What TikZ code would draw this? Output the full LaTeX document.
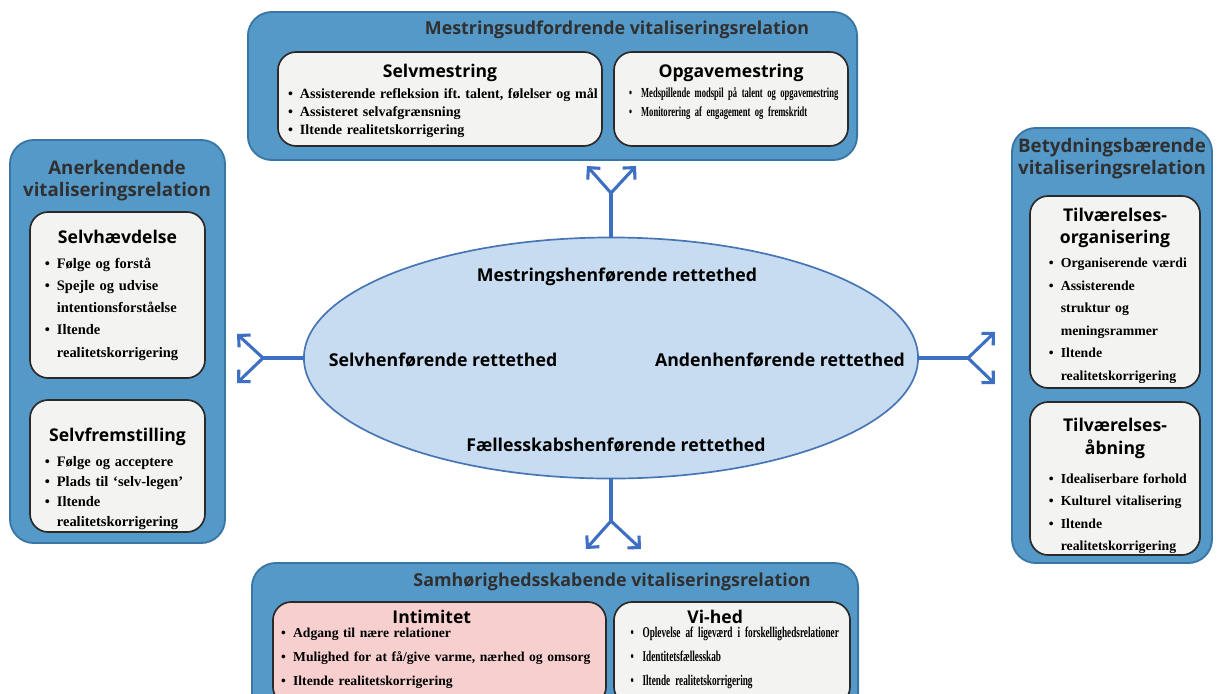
\documentclass[tikz,border=0pt]{standalone}
\usepackage{fontspec}
\setmainfont{Liberation Serif}
\newfontfamily\headfont{Open Sans}
\newfontfamily\narrowserif{Liberation Serif}[FakeStretch=0.62]
\usetikzlibrary{arrows.meta,shapes.geometric}
\definecolor{panelfill}{HTML}{5599C9}
\definecolor{paneldraw}{HTML}{3A76A3}
\definecolor{boxfill}{HTML}{F3F3F1}
\definecolor{boxdraw}{HTML}{2A2A2A}
\definecolor{pinkfill}{HTML}{F7CFCF}
\definecolor{ellfill}{HTML}{C7DCF1}
\definecolor{elldraw}{HTML}{4775B5}
\definecolor{arrowc}{HTML}{3D6FC2}
\definecolor{headtxt}{HTML}{303030}

\frenchspacing
\hyphenpenalty=10000
\exhyphenpenalty=10000
\newlength\bulw \setlength\bulw{8.5pt}
\newlength\itml
\newcommand\itm[1]{\noindent\hangindent=\dimexpr\itml+\bulw\relax\hangafter=1\hspace*{\itml}\makebox[\bulw][l]{\textbullet}#1\par}
\newcommand\boxtitle[2][0pt]{{\centering\headfont\bfseries\fontsize{12.5}{16.3}\selectfont #2\par}\vspace{#1}}

\begin{document}
\begin{tikzpicture}[x=0.025cm, y=-0.025cm,
  panel/.style={draw=paneldraw, line width=1.3pt, fill=panelfill, rounded corners=17pt},
  ptitle/.style={text=headtxt, align=center, font=\headfont\bfseries\fontsize{12.7}{15.6}\selectfont},
  sidetitle/.style={ptitle, font=\headfont\bfseries\fontsize{13.3}{15.6}\selectfont},
  sub/.style={draw=boxdraw, line width=1.2pt, fill=boxfill, rounded corners=13pt, align=left, inner sep=0pt},
  ind/.style={execute at begin node={\setlength{\itml}{#1}}},
  itop/.style={font=\bfseries\fontsize{10}{12.8}\selectfont},
  itopn/.style={font=\narrowserif\bfseries\fontsize{9.8}{13.5}\selectfont},
  ileft/.style={font=\bfseries\fontsize{10.3}{15.8}\selectfont},
  iright/.style={font=\bfseries\fontsize{9.8}{16}\selectfont},
  ibot/.style={font=\bfseries\fontsize{9.7}{17}\selectfont},
  ibotn/.style={font=\narrowserif\bfseries\fontsize{10.6}{17}\selectfont},
  ell/.style={ellipse, draw=elldraw, line width=1.2pt, fill=ellfill},
  etxt/.style={font=\headfont\bfseries\fontsize{12.6}{14}\selectfont},
  stem/.style={draw=arrowc, line width=2.2pt, line cap=round},
  fork/.style={stem, -{Straight Barb[length=6pt, width=12pt]}},
]
\clip (0,0) rectangle (1218,693);
\fill[white] (0,0) rectangle (1218,693);

% four relation panels
\node[panel, minimum width=15.225cm, minimum height=3.7cm] (mesP) at (552.5,86) {};
\node[panel, minimum width=5.375cm, minimum height=10.075cm] (anerP) at (117.5,341.5) {};
\node[panel, minimum width=5cm, minimum height=10.875cm] (betP) at (1112,345.5) {};
\node[panel, minimum width=15.15cm, minimum height=3.925cm] (samP) at (555,641.5) {};

\node[ptitle] (mesT) at (617,30) {Mestringsudfordrende vitaliseringsrelation};
\node[sidetitle] (anerT) at (117,181) {Anerkendende\\vitaliseringsrelation};
\node[sidetitle] (betT) at (1112,159) {Betydningsbærende\\vitaliseringsrelation};
\node[ptitle] (samT) at (612,582) {Samhørighedsskabende vitaliseringsrelation};

% top
\node[sub, itop, ind=4.3pt, minimum width=8.1cm, minimum height=2.35cm, text width=7.9cm] (selvm) at (440,99)
  {\boxtitle[2pt]{\rule{0pt}{12.3pt}Selvmestring}
   \itm{Assisterende refleksion ift. talent, følelser og mål}
   \itm{Assisteret selvafgrænsning}
   \itm{Iltende realitetskorrigering}};
\node[sub, itopn, ind=8pt, minimum width=5.85cm, minimum height=2.35cm, text width=5.65cm] (opgm) at (731,99)
  {\boxtitle[1pt]{Opgavemestring}
   \itm{Medspillende modspil på talent og opgavemestring}
   \itm{Monitorering af engagement og fremskridt\rule[-12pt]{0pt}{12pt}}};

% left
\node[sub, ileft, ind=7.8pt, minimum width=4.375cm, minimum height=4.15cm, text width=4.175cm] (selvh) at (117.5,295)
  {\boxtitle[2pt]{Selvhævdelse}
   \itm{Følge og forstå}
   \itm{Spejle og udvise\newline intentionsforståelse}
   \itm{Iltende\newline realitetskorrigering}};
\node[sub, ileft, ind=7.8pt, minimum width=4.375cm, minimum height=3.3cm, text width=4.175cm] (selvf) at (117.5,466)
  {\boxtitle[3.3pt]{\rule{0pt}{28pt}Selvfremstilling}
   \fontsize{10.3}{14.4}\selectfont
   \itm{Følge og acceptere}
   \itm{Plads til `selv-legen'}
   \itm{Iltende\newline realitetskorrigering}};

% right
\node[sub, iright, ind=12pt, minimum width=4.25cm, minimum height=4.8cm, text width=4.15cm] (tilo) at (1115,292)
  {\boxtitle[1pt]{\rule{0pt}{14.5pt}Tilværelses-\\organisering}
   \itm{Organiserende værdi}
   \itm{Assisterende\newline struktur og\newline meningsrammer}
   \itm{Iltende\newline realitetskorrigering}};
\node[sub, iright, ind=12pt, minimum width=4.25cm, minimum height=3.825cm, text width=4.15cm] (tila) at (1115,478.5)
  {\boxtitle[4.6pt]{\rule{0pt}{20pt}Tilværelses-\\åbning}
   \itm{Idealiserbare forhold}
   \itm{Kulturel vitalisering}
   \itm{Iltende\newline realitetskorrigering}};

% bottom
\node[sub, ibot, ind=3pt, fill=pinkfill, minimum width=8.325cm, minimum height=2.575cm, text width=8.125cm] (intim) at (439.5,653.5)
  {\boxtitle[-7pt]{Intimitet\hspace*{11pt}}
   \itm{Adgang til nære relationer}
   \itm{Mulighed for at få/give varme, nærhed og omsorg}
   \itm{Iltende realitetskorrigering\rule[-8pt]{0pt}{8pt}}};
\node[sub, ibotn, ind=9pt, minimum width=5.9cm, minimum height=2.575cm, text width=5.7cm] (vihed) at (732,653.5)
  {\boxtitle[-7pt]{Vi-hed\hspace*{24pt}}
   \itm{Oplevelse af ligeværd i forskellighedsrelationer}
   \itm{Identitetsfællesskab}
   \itm{Iltende realitetskorrigering\rule[-8pt]{0pt}{8pt}}};

% rettethed ellipse
\node[ell, minimum width=15.35cm, minimum height=6.025cm] (rett) at (611,358) {};
\node[etxt] (mestR) at (617,277) {Mestringshenførende rettethed};
\node[etxt] (selvR) at (443,360) {Selvhenførende rettethed};
\node[etxt] (andenR) at (780,360) {Andenhenførende rettethed};
\node[etxt] (faelR) at (616,445) {Fællesskabshenførende rettethed};

% forks
\coordinate (ftop) at (611,193);
\coordinate (ftopL) at (587,166);
\coordinate (ftopR) at (636,166);
\coordinate (fleft) at (263,358);
\coordinate (fleftU) at (237,334);
\coordinate (fleftD) at (237,383);
\coordinate (fright) at (968,358);
\coordinate (frightU) at (995,332);
\coordinate (frightD) at (995,384);
\coordinate (fbot) at (611,521);
\coordinate (fbotL) at (586,549);
\coordinate (fbotR) at (641,549);

\draw[stem] (rett.north) -- (ftop);
\draw[fork] (ftop) -- (ftopL);
\draw[fork] (ftop) -- (ftopR);
\draw[stem] (rett.west) -- (fleft);
\draw[fork] (fleft) -- (fleftU);
\draw[fork] (fleft) -- (fleftD);
\draw[stem] (rett.east) -- (fright);
\draw[fork] (fright) -- (frightU);
\draw[fork] (fright) -- (frightD);
\draw[stem] (rett.south) -- (fbot);
\draw[fork] (fbot) -- (fbotL);
\draw[fork] (fbot) -- (fbotR);
\end{tikzpicture}
\end{document}
